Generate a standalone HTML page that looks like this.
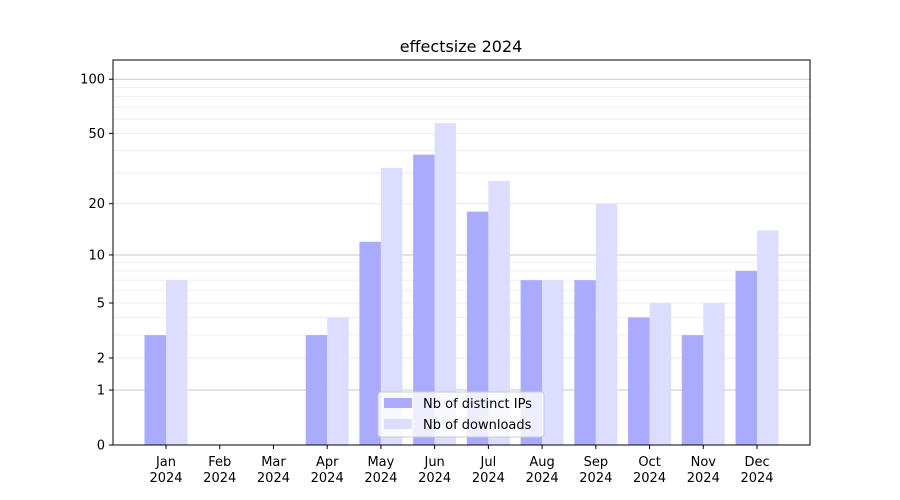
<!DOCTYPE html>
<html><head><meta charset="utf-8"><style>body{margin:0;background:#fff}svg{display:block;font-family:"DejaVu Sans","Liberation Sans",sans-serif}</style></head>
<body>
<svg width="900" height="500" viewBox="0 0 900 500" xmlns="http://www.w3.org/2000/svg">
<rect width="900" height="500" fill="#fff"/>
<g id="grid"></g>
<g id="bars"></g>
<rect x="113" y="60" width="697" height="385" fill="none" stroke="#000" stroke-width="1"/>
<g id="ticks" font-size="13" fill="#000"></g>
<text x="461" y="52" font-size="16" text-anchor="middle">effectsize 2024</text>
<g>
<rect x="378" y="392" width="166" height="45" rx="3" fill="#fff" fill-opacity="0.8" stroke="#ccc"/>
<rect x="384" y="398" width="28" height="10" fill="#aaaaff"/>
<text x="423" y="408" font-size="13">Nb of distinct IPs</text>
<rect x="384" y="419" width="28" height="10" fill="#ddddff"/>
<text x="423" y="429" font-size="13">Nb of downloads</text>
</g>
<script>
var ns="http://www.w3.org/2000/svg";
function Y(v){return 445-182.5*Math.log10(v+1);}
function el(t,a,p,txt){var e=document.createElementNS(ns,t);for(var k in a)e.setAttribute(k,a[k]);if(txt!==undefined)e.textContent=txt;document.getElementById(p).appendChild(e);return e;}
var minor=[3,4,6,7,8,9,30,40,60,70,80,90];
minor.forEach(function(v){var y=Y(v);el("line",{x1:113,x2:810,y1:y,y2:y,stroke:"#eee","stroke-width":0.8},"grid");});
[2,5,20,50].forEach(function(v){var y=Y(v);el("line",{x1:113,x2:810,y1:y,y2:y,stroke:"#e6e6e6","stroke-width":0.8},"grid");});
[1,10,100].forEach(function(v){var y=Y(v);el("line",{x1:113,x2:810,y1:y,y2:y,stroke:"#c8c8c8","stroke-width":1},"grid");});
var ips=[3,0,0,3,12,38,18,7,7,4,3,8],dl=[7,0,0,4,32,57,27,7,20,5,5,14];
var m=["Jan","Feb","Mar","Apr","May","Jun","Jul","Aug","Sep","Oct","Nov","Dec"];
for(var i=0;i<12;i++){var c=166+i*53.73;
if(ips[i])el("rect",{x:c-21.5,y:Y(ips[i]),width:21.5,height:445-Y(ips[i]),fill:"#aaaaff"},"bars");
if(dl[i])el("rect",{x:c,y:Y(dl[i]),width:21.5,height:445-Y(dl[i]),fill:"#ddddff"},"bars");
el("line",{x1:c,x2:c,y1:445,y2:449,stroke:"#000"},"ticks");
el("text",{x:c,y:466,"text-anchor":"middle"},"ticks",m[i]);
el("text",{x:c,y:482,"text-anchor":"middle"},"ticks","2024");}
[0,1,2,5,10,20,50,100].forEach(function(v){var y=Y(v);el("line",{x1:109,x2:113,y1:y,y2:y,stroke:"#000"},"ticks");el("text",{x:105,y:y+4.5,"text-anchor":"end"},"ticks",String(v));});
</script>
</svg>
</body></html>
